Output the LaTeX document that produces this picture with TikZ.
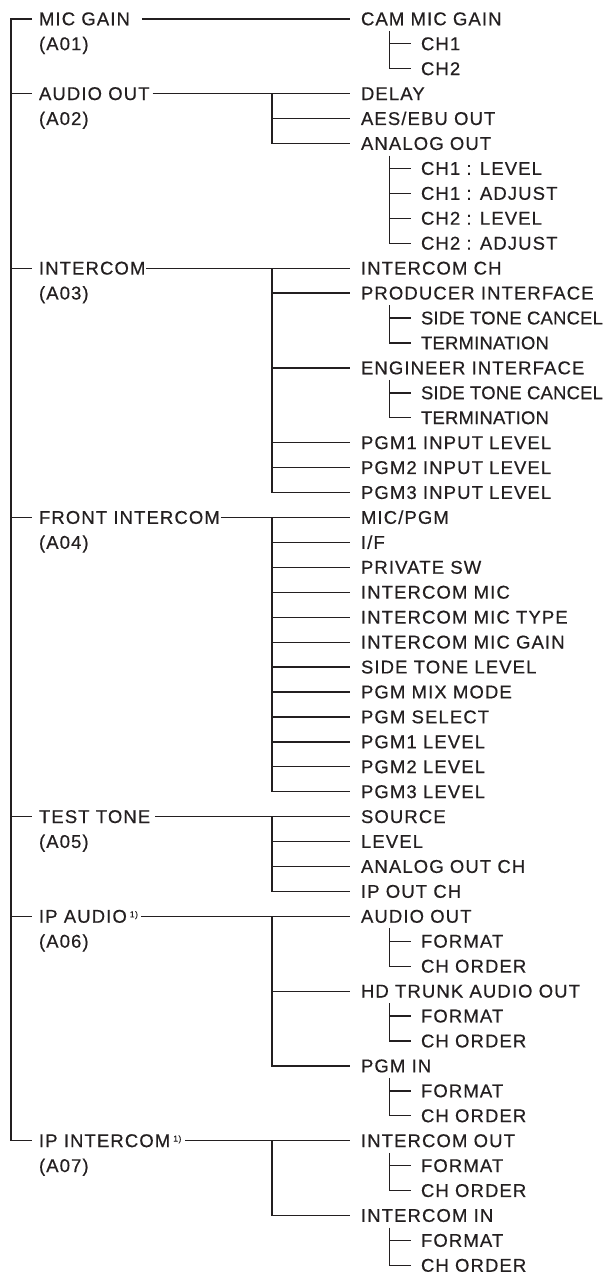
\documentclass[tikz,border=0pt]{standalone}
\usepackage{fontspec}
\setmainfont{Liberation Sans}[LetterSpace=6,FakeBold=0.5]
\newfontfamily\tightfont{Liberation Sans}[LetterSpace=1,FakeBold=0.5]
\usetikzlibrary{calc}
\definecolor{ink}{HTML}{231F20}
\newcommand\Lone[3]{\node[txt] (#1) at (39,{18.9+24.93*#2}) {#3};}
\newcommand\Ltwo[3]{\node[txt] (#1) at (361,{18.9+24.93*#2}) {#3};}
\newcommand\Lthree[3]{\node[txt] (#1) at (421,{18.9+24.93*#2}) {#3};}
\newcommand\sups{\hspace{3pt}\raisebox{5.5pt}{\fontsize{8.5}{8.5}\selectfont 1)}}
\begin{document}
\begin{tikzpicture}[x=1pt,y=-1pt,line width=1.3pt,
  txt/.style={anchor=west,inner sep=0pt,outer sep=0pt,text height=12.7pt,text depth=0pt,
    font=\fontsize{18.5}{21}\selectfont,text=ink},
  conn/.style={draw=ink,line width=1.3pt}]
\useasboundingbox (0,0) rectangle (604,1275);
\coordinate (T) at (11,0);
\coordinate (J) at (272,0);
\coordinate (K) at (389.5,0);
% level 1
\Lone{p0}{0}{MIC GAIN}     \Lone{q1}{1}{(A01)}
\Lone{p3}{3}{AUDIO OUT}    \Lone{q4}{4}{(A02)}
\Lone{p10}{10}{INTERCOM}   \Lone{q11}{11}{(A03)}
\Lone{p20}{20}{FRONT INTERCOM} \Lone{q21}{21}{(A04)}
\Lone{p32}{32}{TEST TONE}  \Lone{q33}{33}{(A05)}
\Lone{p36}{36}{IP AUDIO\sups} \Lone{q37}{37}{(A06)}
\Lone{p45}{45}{IP INTERCOM\sups} \Lone{q46}{46}{(A07)}
% level 2
\Ltwo{r0}{0}{CAM MIC GAIN}
\Ltwo{r3}{3}{DELAY}
\Ltwo{r4}{4}{AES/EBU OUT}
\Ltwo{r5}{5}{ANALOG OUT}
\Ltwo{r10}{10}{INTERCOM CH}
\Ltwo{r11}{11}{PRODUCER INTERFACE}
\Ltwo{r14}{14}{ENGINEER INTERFACE}
\Ltwo{r17}{17}{PGM1 INPUT LEVEL}
\Ltwo{r18}{18}{PGM2 INPUT LEVEL}
\Ltwo{r19}{19}{PGM3 INPUT LEVEL}
\Ltwo{r20}{20}{MIC/PGM}
\Ltwo{r21}{21}{I/F}
\Ltwo{r22}{22}{PRIVATE SW}
\Ltwo{r23}{23}{INTERCOM MIC}
\Ltwo{r24}{24}{INTERCOM MIC TYPE}
\Ltwo{r25}{25}{INTERCOM MIC GAIN}
\Ltwo{r26}{26}{SIDE TONE LEVEL}
\Ltwo{r27}{27}{PGM MIX MODE}
\Ltwo{r28}{28}{PGM SELECT}
\Ltwo{r29}{29}{PGM1 LEVEL}
\Ltwo{r30}{30}{PGM2 LEVEL}
\Ltwo{r31}{31}{PGM3 LEVEL}
\Ltwo{r32}{32}{SOURCE}
\Ltwo{r33}{33}{LEVEL}
\Ltwo{r34}{34}{ANALOG OUT CH}
\Ltwo{r35}{35}{IP OUT CH}
\Ltwo{r36}{36}{AUDIO OUT}
\Ltwo{r39}{39}{HD TRUNK AUDIO OUT}
\Ltwo{r42}{42}{PGM IN}
\Ltwo{r45}{45}{INTERCOM OUT}
\Ltwo{r48}{48}{INTERCOM IN}
% level 3
\Lthree{s1}{1}{CH1}
\Lthree{s2}{2}{CH2}
\Lthree{s6}{6}{CH1 : LEVEL}
\Lthree{s7}{7}{CH1 : ADJUST}
\Lthree{s8}{8}{CH2 : LEVEL}
\Lthree{s9}{9}{CH2 : ADJUST}
\Lthree{s12}{12}{\tightfont SIDE TONE CANCEL}
\Lthree{s13}{13}{\tightfont TERMINATION}
\Lthree{s15}{15}{\tightfont SIDE TONE CANCEL}
\Lthree{s16}{16}{\tightfont TERMINATION}
\Lthree{s37}{37}{FORMAT}
\Lthree{s38}{38}{CH ORDER}
\Lthree{s40}{40}{FORMAT}
\Lthree{s41}{41}{CH ORDER}
\Lthree{s43}{43}{FORMAT}
\Lthree{s44}{44}{CH ORDER}
\Lthree{s46}{46}{FORMAT}
\Lthree{s47}{47}{CH ORDER}
\Lthree{s49}{49}{FORMAT}
\Lthree{s50}{50}{CH ORDER}
% trunk
\draw[conn] ([xshift=-7]p0.west) -| (T |- p45.west) -- ([xshift=-7]p45.west);
\foreach \n in {p3,p10,p20,p32,p36}
  \draw[conn] (T |- \n.west) -- ([xshift=-7]\n.west);
% level 1 -> level 2
\draw[conn] ([xshift=12]p0.east) -- ([xshift=-11]r0.west);
\draw[conn] ([xshift=3]p3.east) -- ([xshift=-11]r3.west);
\draw[conn] ([xshift=1]p10.east) -- ([xshift=-11]r10.west);
\draw[conn] ([xshift=1]p20.east) -- ([xshift=-11]r20.west);
\draw[conn] ([xshift=5]p32.east) -- ([xshift=-11]r32.west);
\draw[conn] ([xshift=3]p36.east) -- ([xshift=-11]r36.west);
\draw[conn] ([xshift=4]p45.east) -- ([xshift=-11]r45.west);
% junctions at J
\draw[conn] (J |- r3.west) |- ([xshift=-11]r5.west);
\draw[conn] (J |- r4.west) -- ([xshift=-11]r4.west);
\draw[conn] (J |- r10.west) |- ([xshift=-11]r19.west);
\foreach \n in {r11,r14,r17,r18}
  \draw[conn] (J |- \n.west) -- ([xshift=-11]\n.west);
\draw[conn] (J |- r20.west) |- ([xshift=-11]r31.west);
\foreach \n in {r21,r22,r23,r24,r25,r26,r27,r28,r29,r30}
  \draw[conn] (J |- \n.west) -- ([xshift=-11]\n.west);
\draw[conn] (J |- r32.west) |- ([xshift=-11]r35.west);
\foreach \n in {r33,r34}
  \draw[conn] (J |- \n.west) -- ([xshift=-11]\n.west);
\draw[conn] (J |- r36.west) |- ([xshift=-11]r42.west);
\draw[conn] (J |- r39.west) -- ([xshift=-11]r39.west);
\draw[conn] (J |- r45.west) |- ([xshift=-11]r48.west);
% level 3 groups
\foreach \p/\a/\b in {r0/s1/s2, r11/s12/s13, r14/s15/s16, r36/s37/s38, r39/s40/s41, r42/s43/s44, r45/s46/s47, r48/s49/s50}{
  \draw[conn] ($(K |- \p.west)+(0,12)$) |- ([xshift=-10]\b.west);
  \draw[conn] (K |- \a.west) -- ([xshift=-10]\a.west);
}
\draw[conn] ($(K |- r5.west)+(0,12)$) |- ([xshift=-10]s9.west);
\foreach \n in {s6,s7,s8}
  \draw[conn] (K |- \n.west) -- ([xshift=-10]\n.west);
\end{tikzpicture}
\end{document}
